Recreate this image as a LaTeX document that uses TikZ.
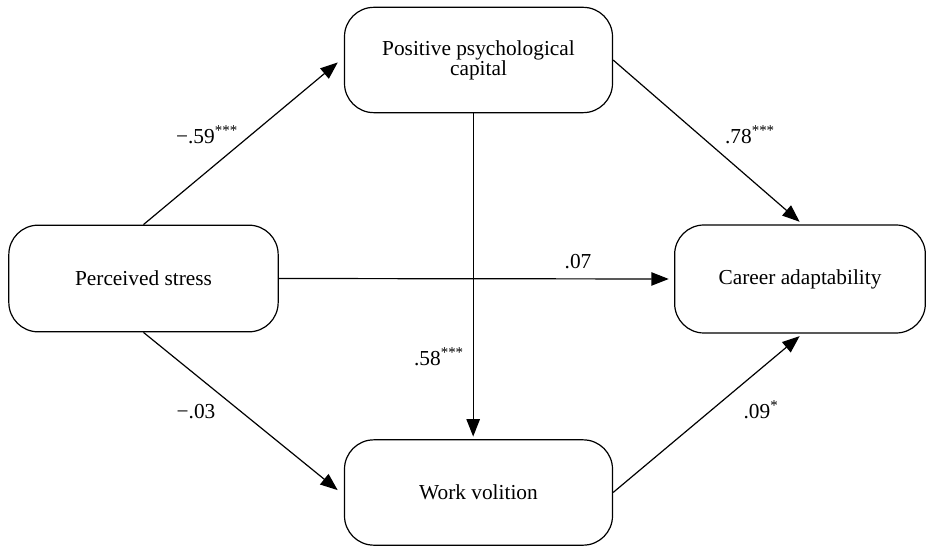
\documentclass[tikz,border=0pt]{standalone}
\usepackage{fontspec}
\setmainfont{Liberation Serif}
\usetikzlibrary{arrows.meta}
\begin{document}
\begin{tikzpicture}[x=0.75pt,y=-0.75pt,
  box/.style={draw, line width=0.9pt, rounded corners=22pt, align=center,
    font=\fontsize{16}{15}\selectfont, inner sep=0pt},
  arr/.style={draw, line width=0.9pt, -{Triangle[length=13pt,width=10pt]}},
  lbl/.style={font=\fontsize{16}{18}\selectfont, inner sep=0pt}]
\useasboundingbox (0,0) rectangle (935,552);
\node[box, minimum width=201pt, minimum height=79pt] (ppc) at (478.5,60) {Positive psychological\\capital};
\node[box, minimum width=202pt, minimum height=80pt] (ps) at (143.5,278.5) {Perceived stress};
\node[box, minimum width=188pt, minimum height=81pt] (ca) at (800,279) {Career adaptability};
\node[box, minimum width=201pt, minimum height=79pt] (wv) at (478.5,492.5) {Work volition};

\draw[arr, shorten >=6pt] (ps.north) -- ([yshift=2pt]ppc.west);
\draw[arr, shorten >=3pt] (ppc.east) -- ([xshift=2pt]ca.north);
\draw[arr, shorten >=4pt] (ps.east) -- (ca.west);
\draw[arr, shorten >=2pt] ([xshift=-4pt]ppc.south) -- ([xshift=-4pt]wv.north);
\draw[arr, shorten >=6pt] (ps.south) -- ([yshift=-2pt]wv.west);
\draw[arr, shorten >=3pt] (wv.east) -- ([xshift=2pt]ca.south);

\node[lbl] (l1) at (207,135) {−.59\textsuperscript{***}};
\node[lbl] (l2) at (750,135) {.78\textsuperscript{***}};
\node[lbl] (l3) at (578,262) {.07};
\node[lbl] (l4) at (439,357) {.58\textsuperscript{***}};
\node[lbl] (l5) at (196,412) {−.03};
\node[lbl] (l6) at (761,410) {.09\textsuperscript{*}};
\end{tikzpicture}
\end{document}
